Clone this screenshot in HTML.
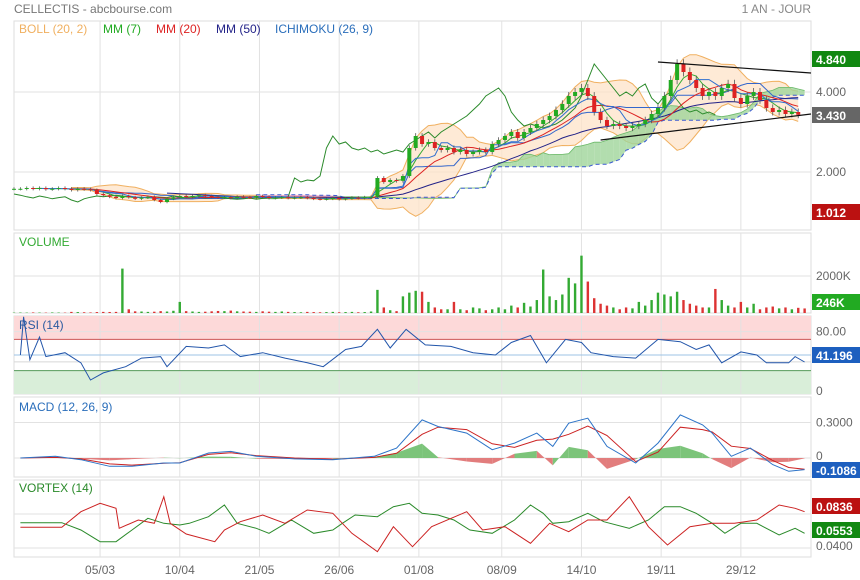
<!DOCTYPE html>
<html><head><meta charset="utf-8"><style>
body{margin:0;background:#fff;}
svg{display:block;font-family:"Liberation Sans",sans-serif;}
</style></head><body>
<svg id="c" width="860" height="580" xmlns="http://www.w3.org/2000/svg">
<text x="14" y="13" font-size="12" fill="#777">CELLECTIS - abcbourse.com</text>
<text x="811" y="13" font-size="12" fill="#888" text-anchor="end">1 AN - JOUR</text>
</svg>
<script>
const closes=[1.58,1.58,1.6,1.58,1.6,1.57,1.58,1.6,1.58,1.55,1.58,1.57,1.55,
1.45,1.42,1.38,1.35,1.4,1.37,1.33,1.36,1.38,1.3,1.25,1.33,1.37,1.4,
1.38,1.4,1.42,1.4,1.38,1.36,1.37,1.35,1.38,1.37,1.36,1.4,1.38,1.35,1.36,1.37,1.35,1.36,1.37,
1.35,1.33,1.32,1.33,1.35,1.32,1.34,1.36,1.35,1.37,1.38,
1.85,1.75,1.8,1.78,1.9,2.6,2.9,2.7,2.75,2.6,2.55,2.6,2.5,2.55,2.45,2.5,2.55,
2.5,2.7,2.8,2.9,3.0,2.85,3.0,3.1,3.2,3.3,3.4,3.55,3.7,3.9,4.0,4.1,
3.9,3.5,3.3,3.15,3.2,3.15,3.1,3.15,3.2,3.3,3.45,3.6,3.9,4.3,
4.7,4.5,4.3,4.1,3.9,4.0,3.9,4.1,4.2,3.85,3.7,3.9,4.0,3.8,3.6,3.5,3.55,3.45,3.5,3.43];
const volumes=[20,25,20,30,25,20,30,25,20,60,50,40,30,
50,60,55,60,2400,200,90,80,60,70,100,80,120,600,
100,80,60,70,90,110,100,130,90,80,70,60,90,70,60,80,60,50,40,
60,50,40,50,60,40,50,60,40,50,80,
1250,300,150,100,900,1100,1200,1150,600,300,200,200,600,200,150,300,250,150,200,300,200,400,300,
550,350,700,2350,900,700,1000,1900,1600,3100,1700,800,500,400,300,200,300,250,600,400,700,1100,1000,900,1150,700,500,400,300,300,1300,700,400,300,600,300,500,200,300,350,250,300,200,280,246];
const rsiDays=[2,3,5,8,10,16,21,24,28,35,40,46,48,54,61,66,71,78,85,92,97,104,109,114,118,123,129,137,144,151,156,162,167,173,178,181,188,195,202,209,214,218,222,228,233,236,243,245,248];
const rsiVals=[50,99,44,73,48,53,40,18,27,35,46,48,35,61,59,63,48,53,46,40,35,57,61,83,59,83,63,61,53,50,66,75,40,70,66,53,48,46,70,67,57,63,40,54,50,40,40,48,41];
const macdDays=[2,13,21,30,37,47,52,61,68,76,88,100,113,120,128,133,142,150,157,164,169,174,180,186,195,202,209,216,219,225,231,238,243,248];
const macdVals=[0,.014,-.014,-.07,-.07,-.042,-.042,.042,.056,.014,-.008,-.014,.014,.084,.322,.266,.21,.07,.126,.21,.098,.294,.336,.098,-.042,.126,.364,.28,.21,.014,.084,-.056,-.112,-.098];
const signalVals=[0,.005,-.008,-.05,-.06,-.045,-.04,.03,.045,.02,0,-.01,.005,.04,.2,.26,.24,.12,.09,.15,.16,.2,.27,.19,-.03,.05,.26,.24,.22,.1,.08,-.02,-.08,-.095];
const viPlusDays=[2,15,21,27,32,37,42,47,52,55,61,66,70,76,80,87,94,100,103,107,114,119,124,128,133,138,143,150,157,162,166,169,174,180,185,193,199,204,209,214,219,223,228,233,240,245,248];
const viPlusVals=[.963,.963,.89,.773,.773,.89,1.007,.957,.94,.957,1.023,1.14,.957,.907,.857,.99,.857,.89,.957,1.04,1.023,1.123,1.157,1.057,1.04,.99,.89,.857,.99,1.14,1.057,.957,.973,1.057,.973,.907,.99,1.123,1.123,1.057,.957,.857,.957,.957,.84,.907,.857];
const viMinusDays=[2,15,21,27,32,33,39,44,47,49,54,63,66,71,78,85,92,100,106,114,119,125,131,142,147,154,162,168,174,180,186,193,199,205,212,219,226,233,240,245,248];
const viMinusVals=[.917,.917,1.073,1.157,1.107,.907,.99,.957,1.223,.957,.85,.773,.89,.973,1.04,.957,1.09,1.057,.857,.673,.923,.723,.923,1.073,.89,.923,.757,.957,.873,.99,.99,1.223,.923,.74,.923,.957,.957,.99,1.14,1.107,1.073];
const xTickDays=[27,52,77,102,127,153,178,203,228];
const xTickLabels=['05/03','10/04','21/05','26/06','01/08','08/09','14/10','19/11','29/12'];
const trendDays=[[202,250],[184,250]];
const trendVals=[[4.75,4.475],[2.8,3.45]];

const NS='http://www.w3.org/2000/svg', svg=document.getElementById('c');
function el(tag,attrs,parent){const e=document.createElementNS(NS,tag);for(const k in attrs)e.setAttribute(k,attrs[k]);(parent||svg).appendChild(e);return e;}
const X=d=>14+d*797/250;
const py=v=>172-(v-2)*40;
const vy=v=>313-v*37/2000;
const ry=v=>394-v*0.78;
const my=v=>458-v*(35.5/0.3);
const wy=v=>519-(v-1)*100;
const pDay=i=>i*2;
const panels=[[21,230,'main-panel'],[233,313,'volume-panel'],[316,394,'rsi-panel'],[397,477,'macd-panel'],[480,557,'vortex-panel']];
// backgrounds & zones
panels.forEach(p=>{const r=el('rect',{x:14,y:p[0],width:797,height:p[1]-p[0],fill:'#fff',stroke:'#ddd'});});
let z=el('rect',{x:14,y:ry(100),width:797,height:ry(70)-ry(100),fill:'#fdd9d9'});
z=el('rect',{x:14,y:ry(30),width:797,height:ry(0)-ry(30),fill:'#d9eed9'});
// grid
xTickDays.forEach((d,i)=>{panels.forEach(p=>el('line',{x1:X(d),x2:X(d),y1:p[0],y2:p[1],stroke:'#e2e2e2'}));
 const t=el('text',{x:X(d),y:574,'font-size':12,fill:'#666','text-anchor':'middle'});t.textContent=xTickLabels[i];});
[[py(4)],[py(2)],[vy(2000)],[ry(80)],[my(0.3)],[my(0)],[514],[548]].forEach(a=>el('line',{x1:14,x2:811,y1:a[0],y2:a[0],stroke:'#e2e2e2'}));
el('line',{x1:14,x2:811,y1:ry(70),y2:ry(70),stroke:'#cc5555'});
el('line',{x1:14,x2:811,y1:ry(30),y2:ry(30),stroke:'#55995a'});
el('line',{x1:14,x2:811,y1:ry(50),y2:ry(50),stroke:'#9cc3e6'});
el('line',{x1:14,x2:811,y1:ry(41.2),y2:ry(41.2),stroke:'#d8d8d8'});

// indicators from closes
const n=closes.length;
const opens=closes.map((c,i)=>i?closes[i-1]:c);
const highs=closes.map((c,i)=>Math.max(c,opens[i])*1.025);
const lows=closes.map((c,i)=>Math.min(c,opens[i])*0.975);
function sma(p){return closes.map((c,i)=>{if(i<p-1)return null;let s=0;for(let k=i-p+1;k<=i;k++)s+=closes[k];return s/p;});}
function mid(p){return closes.map((c,i)=>{if(i<p-1)return null;let h=-1e9,l=1e9;for(let k=i-p+1;k<=i;k++){h=Math.max(h,highs[k]);l=Math.min(l,lows[k]);}return (h+l)/2;});}
function path(xs,ys,yf){let d='';xs.forEach((x,i)=>{if(ys[i]==null)return;d+=(d?'L':'M')+X(x).toFixed(1)+','+yf(ys[i]).toFixed(1);});return d;}
const idx=closes.map((c,i)=>pDay(i));
const ma10=sma(10);
const bUp=ma10.map((m,i)=>{if(m==null)return null;let s=0;for(let k=i-9;k<=i;k++)s+=(closes[k]-m)**2;return m+2*Math.sqrt(s/10);});
const bLo=ma10.map((m,i)=>m==null?null:2*m-bUp[i]);
// bollinger fill
let up='',lo=[];idx.forEach((d,i)=>{if(bUp[i]==null)return;up+=(up?'L':'M')+X(d)+','+py(bUp[i]);lo.unshift('L'+X(d)+','+py(bLo[i]));});
let e=el('path',{d:up+lo.join('')+'Z',fill:'#fde3c8','fill-opacity':0.75,stroke:'none'});
e=el('path',{d:path(idx,bUp,py),fill:'none',stroke:'#f0b060'});
e=el('path',{d:path(idx,bLo,py),fill:'none',stroke:'#f0b060'});
// ichimoku cloud
const ten=mid(5),kij=mid(13),sB=mid(26),sh=13;
const spanA=[],spanB=[],sDays=[];
for(let i=0;i<n;i++){if(ten[i]==null||kij[i]==null||sB[i]==null)continue;if(pDay(i+sh)>249)break;sDays.push(pDay(i+sh));spanA.push((ten[i]+kij[i])/2);spanB.push(sB[i]);}
for(let i=1;i<sDays.length;i++){const g=(spanA[i]+spanA[i-1])>=(spanB[i]+spanB[i-1]);
 e=el('path',{d:`M${X(sDays[i-1])},${py(spanA[i-1])}L${X(sDays[i])},${py(spanA[i])}L${X(sDays[i])},${py(spanB[i])}L${X(sDays[i-1])},${py(spanB[i-1])}Z`,fill:g?'#9fd59a':'#f3a6c8','fill-opacity':0.8,stroke:'none'});
 }
e=el('path',{d:path(sDays,spanA,py),fill:'none',stroke:'#6cba6a','stroke-width':0.8});
e=el('path',{d:path(sDays,spanB,py),fill:'none',stroke:'#3a5ad0','stroke-dasharray':'4,3'});
e=el('path',{d:path(idx,kij,py),fill:'none',stroke:'#3366cc'});
e=el('path',{d:path(idx.map(d=>d-sh*2),closes,py).replace(/M[^L]*/,m=>m),fill:'none',stroke:'#2a8a2a'});
{let d='';idx.forEach((dd,i)=>{const x=dd-sh*2;if(x<0)return;d+=(d?'L':'M')+X(x)+','+py(closes[i]);});e.setAttribute('d',d);}

// moving averages
[[sma(25),'#222288','mm50-line'],[ma10,'#dd2222','mm20-line'],[sma(4),'#33aa33','mm7-line'],[ten,'#2f6fd0','tenkan-line']].forEach(a=>{e=el('path',{d:path(idx,a[0],py),fill:'none',stroke:a[1],'stroke-width':1});});
// candles
closes.forEach((c,i)=>{const g=c>=opens[i],col=g?'#22aa22':'#dd2222',x=X(pDay(i));
 const w=el('line',{x1:x,x2:x,y1:py(highs[i]),y2:py(lows[i]),stroke:'#555','stroke-width':0.8});
 const b=el('rect',{x:x-2,y:py(Math.max(c,opens[i])),width:4,height:Math.max(1,Math.abs(py(c)-py(opens[i]))),fill:col});});
// trend lines
trendDays.forEach((t,i)=>{e=el('line',{x1:X(t[0]),x2:X(t[1]),y1:py(trendVals[i][0]),y2:py(trendVals[i][1]),stroke:'#111','stroke-width':1.2});});
// volume
volumes.forEach((v,i)=>{const g=closes[i]>=opens[i];const b=el('rect',{x:X(pDay(i))-1.2,y:vy(v),width:2.4,height:313-vy(v),fill:g?'#33aa33':'#dd3333'});});
// rsi
e=el('path',{d:path(rsiDays,rsiVals,ry),fill:'none',stroke:'#2255aa'});
// macd histogram
for(let i=1;i<macdDays.length;i++){const h0=macdVals[i-1]-signalVals[i-1],h1=macdVals[i]-signalVals[i];
 e=el('path',{d:`M${X(macdDays[i-1])},${my(0)}L${X(macdDays[i-1])},${my(h0)}L${X(macdDays[i])},${my(h1)}L${X(macdDays[i])},${my(0)}Z`,fill:(h0+h1)>=0?'#7cc47a':'#e27d7d',stroke:'none'});
 }
e=el('path',{d:path(macdDays,signalVals,my),fill:'none',stroke:'#cc2222'});
e=el('path',{d:path(macdDays,macdVals,my),fill:'none',stroke:'#2d74c8'});
// vortex
e=el('path',{d:path(viPlusDays,viPlusVals,wy),fill:'none',stroke:'#2a8a2a'});
e=el('path',{d:path(viMinusDays,viMinusVals,wy),fill:'none',stroke:'#cc2222'});
// titles & legend
[['BOLL (20, 2)',19,33,'#f0b060','legend-boll'],['MM (7)',103,33,'#22aa22','legend-mm7'],['MM (20)',156,33,'#dd2222','legend-mm20'],['MM (50)',216,33,'#222288','legend-mm50'],['ICHIMOKU (26, 9)',275,33,'#2a6ebb','legend-ichimoku'],
 ['VOLUME',19,246,'#33aa33','volume-title'],['RSI (14)',19,329,'#2a5aa0','rsi-title'],['MACD (12, 26, 9)',19,411,'#2a6ebb','macd-title'],['VORTEX (14)',19,492,'#2a8a2a','vortex-title']].forEach(a=>{
 const t=el('text',{x:a[1],y:a[2],'font-size':12,fill:a[3]});t.textContent=a[0];});
// right labels
[['4.840',59,'#118811'],['3.430',115,'#666666'],['1.012',212,'#bb1111'],['246K',302,'#22aa22'],['41.196',355,'#1d5fbf'],['-0.1086',470,'#1d5fbf'],['0.0836',506,'#bb1111'],['0.0553',530,'#118811']].forEach(a=>{
 const r=el('rect',{x:812,y:a[1]-8,width:48,height:16,fill:a[2]});
 const t=el('text',{x:816,y:a[1]+5,'font-size':12,fill:'#fff','font-weight':'bold'});t.textContent=a[0];});
[['4.000',py(4)],['2.000',py(2)],['2000K',vy(2000)],['80.00',ry(80)],['0',ry(0)-3],['0.3000',my(0.3)],['0',my(0)-2],['0.0400',546]].forEach(a=>{
 const t=el('text',{x:816,y:a[1]+4,'font-size':12,fill:'#666'});t.textContent=a[0];});
</script>
</body></html>
